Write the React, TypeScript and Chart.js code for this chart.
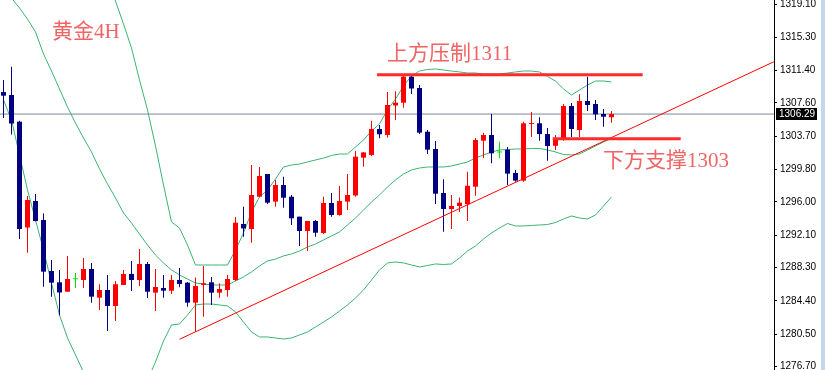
import React, { useEffect, useRef } from 'react';
import { Chart, registerables } from 'chart.js';

Chart.register(...registerables);

// ---- Data (4H gold candles) ----
const opens = [1308.87, 1308.52, 1305.40, 1293.00, 1296.11, 1293.88, 1287.91, 1286.58, 1285.48, 1286.94,
  1286.85, 1288.14, 1284.78, 1285.68, 1283.81, 1286.27, 1287.56, 1286.85, 1288.73, 1285.37,
  1285.92, 1285.60, 1286.85, 1286.54, 1284.20, 1286.27, 1286.58, 1285.37, 1285.68, 1286.85,
  1293.41, 1292.83, 1296.61, 1299.27, 1296.03, 1297.98, 1296.61, 1294.27, 1292.59, 1293.76,
  1292.36, 1295.87, 1294.47, 1296.03, 1296.75, 1301.18, 1301.50, 1304.54, 1303.84, 1307.29,
  1307.62, 1310.67, 1309.34, 1304.22, 1302.20, 1297.04, 1295.17, 1295.52, 1295.73, 1297.78,
  1303.17, 1303.84, 1301.79, 1302.12, 1299.39, 1298.49, 1305.13, 1305.21, 1303.95, 1302.57,
  1303.45, 1307.23, 1304.42, 1307.82, 1307.47, 1306.30, 1305.92];
const highs = [1310.28, 1311.84, 1305.51, 1296.69, 1296.93, 1294.64, 1289.20, 1288.03, 1289.67, 1287.67,
  1289.43, 1288.85, 1286.35, 1287.44, 1286.74, 1288.03, 1289.08, 1290.49, 1288.96, 1288.14,
  1287.44, 1287.44, 1288.26, 1286.62, 1287.15, 1288.49, 1287.21, 1286.47, 1287.44, 1294.23,
  1295.44, 1300.32, 1300.09, 1299.27, 1298.57, 1298.95, 1296.81, 1294.27, 1293.76, 1293.88,
  1296.61, 1297.04, 1297.86, 1299.27, 1302.00, 1301.85, 1305.51, 1305.01, 1308.87, 1308.96,
  1310.81, 1310.90, 1309.69, 1304.42, 1303.14, 1298.65, 1296.81, 1296.52, 1299.54, 1303.49,
  1304.11, 1306.30, 1303.05, 1302.43, 1299.74, 1305.40, 1306.53, 1305.91, 1304.66, 1303.84,
  1307.47, 1307.59, 1308.62, 1310.67, 1307.94, 1306.88, 1306.65];
const lows = [1305.83, 1303.90, 1291.66, 1290.05, 1293.71, 1286.07, 1284.90, 1282.70, 1285.48, 1285.95,
  1285.92, 1284.20, 1283.34, 1280.88, 1282.05, 1286.27, 1285.57, 1286.15, 1284.75, 1283.22,
  1284.78, 1285.21, 1286.00, 1283.73, 1280.80, 1282.56, 1283.93, 1284.78, 1284.90, 1286.74,
  1291.93, 1291.22, 1296.61, 1295.76, 1295.44, 1295.32, 1293.30, 1290.84, 1290.25, 1291.93,
  1292.24, 1294.27, 1294.39, 1295.05, 1296.61, 1300.12, 1301.38, 1303.45, 1303.54, 1305.59,
  1307.04, 1308.64, 1303.95, 1301.61, 1295.76, 1292.51, 1292.83, 1294.82, 1293.76, 1296.73,
  1301.14, 1300.52, 1301.11, 1297.98, 1298.37, 1298.37, 1303.60, 1303.17, 1300.83, 1302.08,
  1303.17, 1303.60, 1303.60, 1306.65, 1305.59, 1304.81, 1305.28];
const closes = [1308.44, 1305.18, 1292.83, 1296.22, 1293.76, 1287.83, 1286.54, 1285.39, 1286.97, 1286.94,
  1288.14, 1284.90, 1285.68, 1283.81, 1286.36, 1287.56, 1286.85, 1288.73, 1285.48, 1286.03,
  1285.60, 1286.85, 1286.39, 1284.20, 1286.15, 1286.47, 1285.37, 1285.80, 1286.97, 1293.57,
  1292.89, 1296.81, 1299.04, 1295.91, 1297.98, 1296.49, 1294.08, 1292.59, 1293.76, 1292.39,
  1295.87, 1294.47, 1296.11, 1296.81, 1301.30, 1301.79, 1304.54, 1303.92, 1307.35, 1307.62,
  1310.67, 1309.28, 1304.11, 1302.12, 1296.96, 1295.17, 1295.52, 1295.91, 1297.89, 1303.25,
  1303.84, 1301.69, 1301.79, 1299.31, 1298.49, 1305.21, 1305.24, 1303.95, 1302.55, 1303.45,
  1307.23, 1304.54, 1307.82, 1307.35, 1306.26, 1305.98, 1306.29];

// Bollinger bands
const bbUpper = [1333.71, 1334.64, 1336.05, 1337.22, 1337.81, 1337.22, 1336.28, 1335.46, 1333.94, 1332.30,
  1330.19, 1327.50, 1324.80, 1322.11, 1319.53, 1316.84, 1314.03, 1310.28, 1306.77, 1302.55,
  1297.98, 1293.65, 1292.94, 1290.95, 1288.61, 1288.61, 1288.61, 1288.61, 1288.61, 1290.37,
  1292.36, 1294.82, 1296.58, 1297.40, 1298.68, 1300.09, 1300.32, 1300.44, 1300.68, 1300.91,
  1301.14, 1301.44, 1301.61, 1301.61, 1302.43, 1303.25, 1304.31, 1305.13, 1306.77, 1308.05,
  1309.58, 1310.75, 1311.33, 1311.51, 1311.57, 1311.45, 1311.33, 1311.22, 1311.10, 1311.10,
  1310.98, 1310.98, 1310.98, 1311.10, 1311.22, 1311.33, 1311.33, 1311.22, 1310.69, 1310.16,
  1309.23, 1308.52, 1309.11, 1309.69, 1310.16, 1310.16, 1310.05];
const bbMiddle = [1321.17, 1319.88, 1318.71, 1317.42, 1315.90, 1313.33, 1311.33, 1309.23, 1307.12, 1305.24,
  1303.49, 1301.85, 1299.86, 1298.10, 1296.46, 1294.70, 1293.53, 1292.24, 1290.95, 1289.78,
  1288.85, 1288.03, 1287.44, 1286.97, 1286.50, 1286.39, 1286.27, 1286.27, 1286.27, 1286.74,
  1287.21, 1287.79, 1288.49, 1289.08, 1289.31, 1289.67, 1289.90, 1290.25, 1290.72, 1291.07,
  1291.54, 1292.01, 1292.48, 1293.30, 1294.12, 1295.05, 1295.99, 1296.81, 1297.75, 1298.57,
  1299.27, 1299.74, 1299.97, 1300.09, 1300.09, 1300.09, 1300.21, 1300.44, 1300.68, 1301.14,
  1301.50, 1301.85, 1302.08, 1302.14, 1302.20, 1302.20, 1302.26, 1302.26, 1302.08, 1301.85,
  1301.55, 1301.50, 1301.61, 1302.08, 1302.55, 1303.02, 1303.43];
const bbLower = [1307.94, 1305.59, 1301.50, 1297.40, 1293.88, 1290.37, 1286.50, 1282.75, 1280.06, 1278.07,
  1276.08, 1275.14, 1274.44, 1273.85, 1273.38, 1273.15, 1273.27, 1273.97, 1275.14, 1277.25,
  1279.71, 1281.58, 1281.70, 1282.75, 1283.93, 1284.04, 1284.04, 1283.93, 1283.81, 1283.11,
  1281.93, 1280.76, 1280.18, 1280.18, 1280.06, 1279.94, 1280.06, 1280.41, 1280.76, 1281.35,
  1281.93, 1282.52, 1283.22, 1283.93, 1284.75, 1285.68, 1286.85, 1288.03, 1288.85, 1288.96,
  1288.85, 1288.61, 1288.38, 1288.55, 1288.73, 1288.67, 1288.73, 1289.43, 1290.25, 1290.84,
  1291.66, 1292.36, 1292.94, 1293.47, 1293.18, 1293.18, 1293.24, 1293.30, 1293.35, 1293.59,
  1294.00, 1294.35, 1294.12, 1294.00, 1294.47, 1295.52, 1296.58];

// Axis ticks
const yTicks = [1276.7, 1280.5, 1284.4, 1288.3, 1292.1, 1296.0, 1299.8, 1303.7, 1307.6, 1311.4, 1315.3, 1319.1];
const yRange = [1276.31, 1319.65];
const xRange = [-0.4375, 96.3125];

// Drawn levels
const lastPrice = 1306.29;
const trendX = [22, 96.3];
const trendY = [1279.91, 1312.42];
const resistanceX = [46.7, 79.9];
const resistanceY = [1310.89, 1310.89];
const supportX = [68.65, 84.65];
const supportY = [1303.39, 1303.39];

// Labels
const titleText = '黄金4H';
const resistanceText = '上方压制1311';
const supportText = '下方支撑1303';

const RED = '#ff0000';
const NAVY = '#000080';
const GREEN = '#00e000';
const BAND = '#3cb371';

const overlayPlugin = {
  id: 'overlay',
  afterDraw(chart: any) {
    const ctx = chart.ctx;
    const ys = chart.scales.y;
    ctx.save();
    // right border strip
    ctx.fillStyle = '#c3d6ec';
    ctx.fillRect(821, 0, 4, chart.height);
    // last price tag
    const py = Math.round(ys.getPixelForValue(lastPrice));
    ctx.fillStyle = '#000';
    ctx.fillRect(776, py - 6, 41, 12);
    ctx.fillStyle = '#fff';
    ctx.font = '10px "Liberation Sans", Arial, sans-serif';
    ctx.textBaseline = 'middle';
    ctx.textAlign = 'left';
    ctx.fillText(lastPrice.toFixed(2), 779, py + 0.5);
    // annotation texts
    ctx.fillStyle = '#f06464';
    ctx.font = '21px "Liberation Serif", "Noto Sans CJK SC", serif';
    ctx.fillText(titleText, 52, 32);
    ctx.fillText(resistanceText, 387, 54);
    ctx.fillText(supportText, 603, 161);
    ctx.restore();
  },
};

export default function App() {
  const ref = useRef<HTMLCanvasElement>(null);
  useEffect(() => {
    document.body.style.margin = '0';
    const idx = closes.map((_, i) => i);
    const colors = idx.map((i) => (closes[i] > opens[i] ? RED : closes[i] < opens[i] ? NAVY : GREEN));
    const line = (xs: number[], ys: number[], color: string, width: number, order: number) => ({
      type: 'line' as const,
      data: xs.map((x, i) => ({ x, y: ys[i] })),
      borderColor: color,
      borderWidth: width,
      pointRadius: 0,
      tension: 0,
      fill: false,
      order,
    });
    const band = (vals: number[]) => line(idx, vals, BAND, 1, 3);
    const chart = new Chart(ref.current as HTMLCanvasElement, {
      type: 'bar',
      data: {
        datasets: [
          line(resistanceX, resistanceY, '#ff2a2a', 3, -2),
          line(supportX, supportY, '#ff2a2a', 3, -2),
          line(trendX, trendY, RED, 1, -1),
          {
            type: 'bar',
            data: idx.map((i) => ({ x: i, y: [opens[i], closes[i]] })),
            backgroundColor: colors,
            borderWidth: 0,
            grouped: false,
            maxBarThickness: 5,
            minBarLength: 1,
            order: 0,
          } as any,
          {
            type: 'bar',
            data: idx.map((i) => ({ x: i, y: [lows[i], highs[i]] })),
            backgroundColor: colors,
            borderWidth: 0,
            grouped: false,
            maxBarThickness: 1,
            order: 1,
          } as any,
          band(bbUpper),
          band(bbMiddle),
          band(bbLower),
          line([xRange[0], xRange[1]], [lastPrice, lastPrice], '#778899', 1, 4),
        ],
      },
      options: {
        responsive: false,
        animation: false,
        devicePixelRatio: 1,
        layout: { padding: 0 },
        plugins: { legend: { display: false }, tooltip: { enabled: false } },
        scales: {
          x: {
            type: 'linear',
            min: xRange[0],
            max: xRange[1],
            offset: false,
            display: false,
            grid: { display: false },
          },
          y: {
            type: 'linear',
            position: 'right',
            min: yRange[0],
            max: yRange[1],
            beginAtZero: false,
            bounds: 'data',
            afterBuildTicks: (scale: any) => {
              scale.ticks = yTicks.map((v) => ({ value: v }));
            },
            afterFit: (scale: any) => {
              scale.width = 51;
              scale.paddingTop = 0;
              scale.paddingBottom = 0;
            },
            grid: { drawOnChartArea: false, drawTicks: true, tickLength: 3, color: '#000' },
            border: { display: true, color: '#000', width: 1 },
            ticks: {
              autoSkip: false,
              padding: 3,
              color: '#000',
              font: { family: '"Liberation Sans", Arial, sans-serif', size: 10 },
              callback: (v: any) => Number(v).toFixed(2),
            },
          },
        },
      },
      plugins: [overlayPlugin],
    } as any);
    return () => chart.destroy();
  }, []);
  return (
    <div style={{ position: 'absolute', left: 0, top: 0, width: 825, height: 370, background: '#fff' }}>
      <canvas ref={ref} width={825} height={370} style={{ display: 'block' }} />
    </div>
  );
}
